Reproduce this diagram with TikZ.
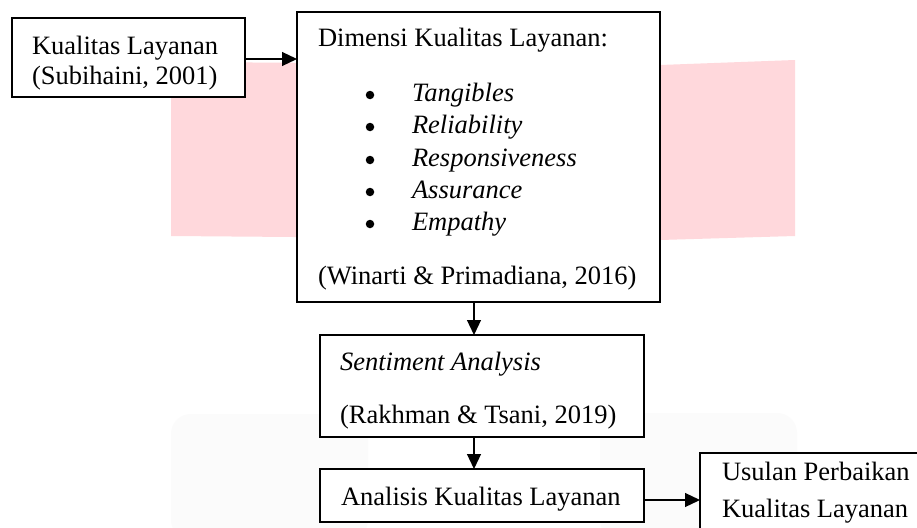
\documentclass[tikz,border=0pt]{standalone}
\usepackage{fontspec}
\setmainfont{Liberation Serif}
\usetikzlibrary{arrows.meta}
\definecolor{pinkwm}{RGB}{255,216,220}
\definecolor{graywm}{RGB}{251,251,251}
\tikzset{
  box/.style={draw=black, fill=white, line width=1.5pt, inner sep=0pt, outer sep=0pt},
  thickbox/.style={box, line width=2.3pt},
  txt/.style={anchor=base west, inner sep=0pt, outer sep=0pt, font=\fontsize{26.5}{30}\selectfont},
  dot/.style={circle, fill=black, inner sep=0pt, outer sep=0pt, minimum size=8.5pt},
  arr/.style={draw=black, line width=1.2pt, -{Triangle[length=15pt,width=14pt]}}
}
\begin{document}
\begin{tikzpicture}[x=1pt,y=-1pt]
\clip (0,0) rectangle (917,527);
\fill[white] (0,0) rectangle (917,527);
% watermark shapes
\fill[pinkwm] (171,62) -- (660,65) -- (795,60) -- (795,236) -- (660,240) -- (171,236) -- cycle;
\fill[graywm, rounded corners=20pt] (171,414) rectangle (368,540);
\fill[graywm, rounded corners=20pt] (600,413) rectangle (797,540);
% boxes
\node[box, minimum width=233pt, minimum height=79pt] (b1) at (128.5,57.5) {};
\node[thickbox, minimum width=363pt, minimum height=290pt] (b2) at (478.5,157) {};
\node[box, minimum width=324pt, minimum height=102pt] (b3) at (482,386) {};
\node[thickbox, minimum width=324pt, minimum height=53pt] (b4) at (482,495.5) {};
\node[box, minimum width=240pt, minimum height=100pt] (b5) at (820,503) {};
% texts
\node[txt] (t1a) at (32,55) {Kualitas Layanan};
\node[txt] (t1b) at (32,84) {(Subihaini, 2001)};
\node[txt] (t2) at (318,47) {Dimensi Kualitas Layanan:};
\node[dot] (d1) at (370,95) {};
\node[dot] (d2) at (370,127) {};
\node[dot] (d3) at (370,160) {};
\node[dot] (d4) at (370,192) {};
\node[dot] (d5) at (370,224) {};
\node[txt] (i1) at (412,101) {\itshape Tangibles};
\node[txt] (i2) at (412,133) {\itshape Reliability};
\node[txt] (i3) at (412,166) {\itshape Responsiveness};
\node[txt] (i4) at (412,198) {\itshape Assurance};
\node[txt] (i5) at (412,230) {\itshape Empathy};
\node[txt] (t2b) at (318,284) {(Winarti \& Primadiana, 2016)};
\node[txt] (t3a) at (340,370) {\itshape Sentiment Analysis};
\node[txt] (t3b) at (340,423) {(Rakhman \& Tsani, 2019)};
\node[txt] (t4) at (341,505) {Analisis Kualitas Layanan};
\node[txt] (t5a) at (722,480) {Usulan Perbaikan};
\node[txt] (t5b) at (722,517) {Kualitas Layanan};
% connectors
\coordinate (ay1) at (0,59);
\coordinate (ax) at (474,0);
\coordinate (ay2) at (0,500);
\draw[arr] (b1.east |- ay1) -- (b2.west |- ay1);
\draw[arr] (b2.south -| ax) -- (b3.north -| ax);
\draw[arr] (b3.south -| ax) -- (b4.north -| ax);
\draw[arr] (b4.east |- ay2) -- (b5.west |- ay2);
\end{tikzpicture}
\end{document}
